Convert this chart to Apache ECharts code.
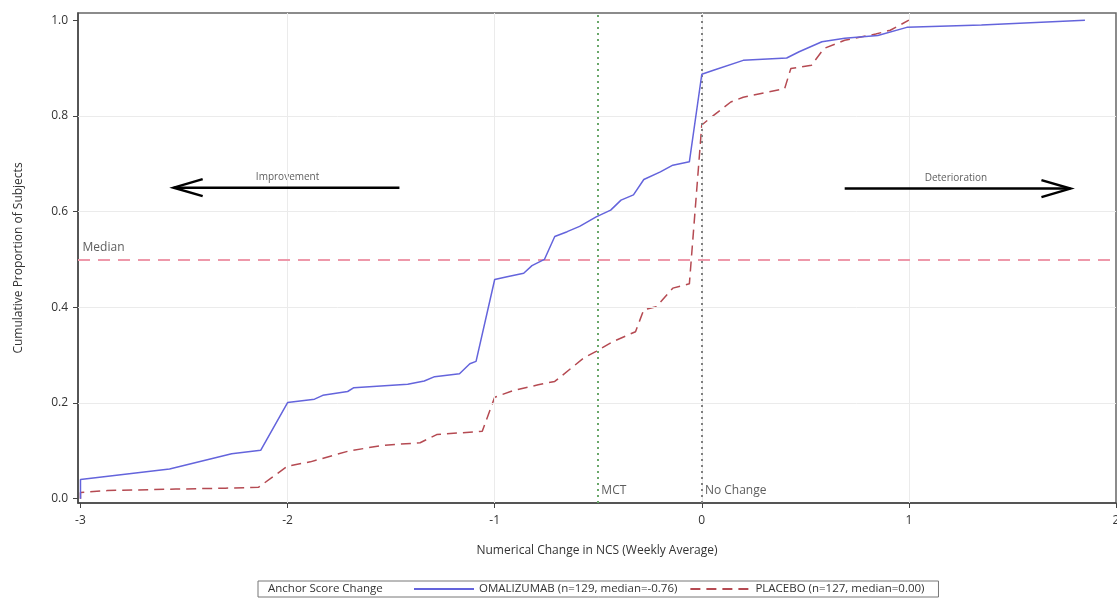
<!DOCTYPE html>
<html>
<head>
<meta charset="utf-8">
<script src="https://cdn.jsdelivr.net/npm/echarts@6/dist/echarts.min.js"></script>
<style>
html,body{margin:0;padding:0;background:#fff;}
#chart{width:1117px;height:601px;}
</style>
</head>
<body>
<div id="chart"></div>
<script>
// ---- data ----
const xTicks = [-3, -2, -1, 0, 1, 2];
const yTicks = [0, 0.2, 0.4, 0.6, 0.8, 1.0];

const omalizumab = [
  [-3, 0.0], [-3, 0.040], [-2.57, 0.062], [-2.27, 0.094], [-2.13, 0.101], [-2.0, 0.201],
  [-1.87, 0.208], [-1.83, 0.216], [-1.71, 0.224], [-1.68, 0.232], [-1.42, 0.239], [-1.34, 0.246],
  [-1.29, 0.255], [-1.17, 0.261], [-1.12, 0.282], [-1.09, 0.287], [-1.0, 0.458], [-0.94, 0.464],
  [-0.86, 0.471], [-0.82, 0.487], [-0.76, 0.500], [-0.71, 0.548], [-0.65, 0.558], [-0.59, 0.569],
  [-0.51, 0.589], [-0.44, 0.603], [-0.39, 0.624], [-0.33, 0.635], [-0.28, 0.667], [-0.20, 0.683],
  [-0.14, 0.697], [-0.06, 0.704], [0.0, 0.887], [0.06, 0.896], [0.20, 0.916], [0.41, 0.921],
  [0.47, 0.934], [0.58, 0.955], [0.69, 0.962], [0.85, 0.968], [0.99, 0.985], [1.35, 0.990], [1.85, 1.0]
];

const placebo = [
  [-3, 0.0], [-3, 0.013], [-2.87, 0.017], [-2.54, 0.020], [-2.30, 0.022], [-2.14, 0.024],
  [-2.08, 0.043], [-2.0, 0.068], [-1.89, 0.077], [-1.71, 0.099], [-1.55, 0.111], [-1.36, 0.117],
  [-1.28, 0.134], [-1.06, 0.141], [-1.0, 0.212], [-0.91, 0.226], [-0.79, 0.238], [-0.71, 0.245],
  [-0.57, 0.294], [-0.51, 0.308], [-0.43, 0.328], [-0.32, 0.349], [-0.28, 0.395], [-0.22, 0.401],
  [-0.14, 0.440], [-0.06, 0.449], [0.0, 0.781], [0.06, 0.802], [0.14, 0.829], [0.20, 0.839],
  [0.40, 0.857], [0.43, 0.899], [0.53, 0.906], [0.59, 0.941], [0.69, 0.958], [0.84, 0.971],
  [0.91, 0.979], [1.0, 1.0]
];

const medianY = 0.5;
const mctX = -0.5;
const noChangeX = 0;

// arrows: [tailX, headX, y]
const arrows = [[-1.46, -2.55, 0.650], [0.69, 1.78, 0.648]];
// text annotations: [x, y, text]
const arrowLabels = [[-2.0, 0.672, 'Improvement'], [1.227, 0.670, 'Deterioration']];
const refLabels = [[-2.99, 0.524, 'Median'], [-0.485, 0.016, 'MCT'], [0.015, 0.016, 'No Change']];

const legendTitle = 'Anchor Score Change';
const seriesNames = ['OMALIZUMAB (n=129, median=-0.76)', 'PLACEBO (n=127, median=0.00)'];

// ---- chart ----
const FONT = '"Open Sans", "Noto Sans", sans-serif';
const chart = echarts.init(document.getElementById('chart'), null, {renderer: 'canvas'});

const gridLineData = [];
xTicks.slice(1, -1).forEach(v => gridLineData.push({xAxis: v}));
yTicks.slice(1, -1).forEach(v => gridLineData.push({yAxis: v}));

chart.setOption({
  animation: false,
  backgroundColor: '#fff',
  textStyle: {fontFamily: FONT},
  grid: {left: 78, right: 1, top: 13, bottom: 98, show: true, borderColor: '#666', borderWidth: 1.5,
         containLabel: false, outerBoundsMode: 'none'},
  title: {
    text: legendTitle, left: 268, top: 583, padding: 0,
    textStyle: {fontSize: 11.5, fontWeight: 'normal', color: '#333', fontFamily: FONT}
  },
  legend: {
    data: seriesNames,
    left: 258, top: 581,
    padding: [2, 14, 2, 155],
    itemWidth: 60, itemHeight: 12, itemGap: 12,
    borderColor: '#777', borderWidth: 1,
    itemStyle: {color: 'transparent', borderColor: 'transparent', borderWidth: 0, opacity: 0},
    textStyle: {fontSize: 11.5, color: '#333', fontFamily: FONT},
    selectedMode: false
  },
  xAxis: {
    type: 'value', min: -3.012, max: 2.0,
    name: 'Numerical Change in NCS (Weekly Average)', nameLocation: 'middle', nameGap: 42,
    nameTextStyle: {fontSize: 12, color: '#333'},
    axisLine: {show: true, onZero: false, lineStyle: {color: '#444', width: 1.5}},
    axisTick: {show: true, customValues: xTicks, length: 5, lineStyle: {color: '#444'}},
    axisLabel: {customValues: xTicks, fontSize: 12, color: '#333', margin: 12},
    splitLine: {show: false}
  },
  yAxis: {
    type: 'value', min: -0.009, max: 1.015,
    name: 'Cumulative Proportion of Subjects', nameLocation: 'middle', nameGap: 53,
    nameTextStyle: {fontSize: 12, color: '#333'},
    axisLine: {show: true, onZero: false, lineStyle: {color: '#444', width: 1.5}},
    axisTick: {show: true, customValues: yTicks, length: 5, lineStyle: {color: '#444'}},
    axisLabel: {customValues: yTicks, fontSize: 12, color: '#333', margin: 10, formatter: v => v.toFixed(1)},
    splitLine: {show: false}
  },
  series: [
    {
      name: 'grid', type: 'line', data: [], silent: true,
      markLine: {
        silent: true, symbol: 'none', label: {show: false},
        lineStyle: {color: '#ebebeb', type: 'solid', width: 1},
        data: gridLineData
      }
    },
    {
      name: 'refs', type: 'line', data: [], silent: true,
      markLine: {
        silent: true, symbol: 'none', label: {show: false},
        data: [
          {yAxis: medianY, lineStyle: {color: '#ee98aa', type: [12, 8], width: 2}},
          {xAxis: mctX, lineStyle: {color: '#6aa86a', type: [2, 4], width: 2}},
          {xAxis: noChangeX, lineStyle: {color: '#808080', type: [2, 4], width: 2}}
        ]
      }
    },
    {
      name: seriesNames[0], type: 'line', data: omalizumab, showSymbol: false, symbol: 'none',
      lineStyle: {color: '#6464dc', width: 1.5}, itemStyle: {color: '#6464dc'}, z: 5
    },
    {
      name: seriesNames[1], type: 'line', data: placebo, showSymbol: false, symbol: 'none',
      lineStyle: {color: '#b54a52', width: 1.5, type: [10, 6]}, itemStyle: {color: '#b54a52'}, z: 4
    },
    {
      name: 'arrows', type: 'custom', data: arrows, silent: true, z: 6,
      renderItem: function (params, api) {
        const tail = api.coord([api.value(0), api.value(2)]);
        const head = api.coord([api.value(1), api.value(2)]);
        const dir = head[0] > tail[0] ? 1 : -1;
        const st = {stroke: '#000', lineWidth: 2.5, fill: null};
        return {
          type: 'group',
          children: [
            {type: 'line', shape: {x1: tail[0], y1: tail[1], x2: head[0], y2: head[1]}, style: st},
            {type: 'polyline', shape: {points: [[head[0] - dir * 29, head[1] - 8.5], [head[0], head[1]], [head[0] - dir * 29, head[1] + 8.5]]}, style: st}
          ]
        };
      }
    },
    {
      name: 'arrowLabels', type: 'scatter', data: arrowLabels, symbolSize: 0, silent: true,
      label: {show: true, position: 'inside', formatter: p => p.data[2], fontSize: 10, color: '#333'}
    },
    {
      name: 'refLabels', type: 'scatter', data: refLabels, symbolSize: 0, silent: true,
      label: {show: true, position: 'right', distance: 0, formatter: p => p.data[2], fontSize: 12, color: '#333'}
    }
  ]
});
</script>
</body>
</html>
